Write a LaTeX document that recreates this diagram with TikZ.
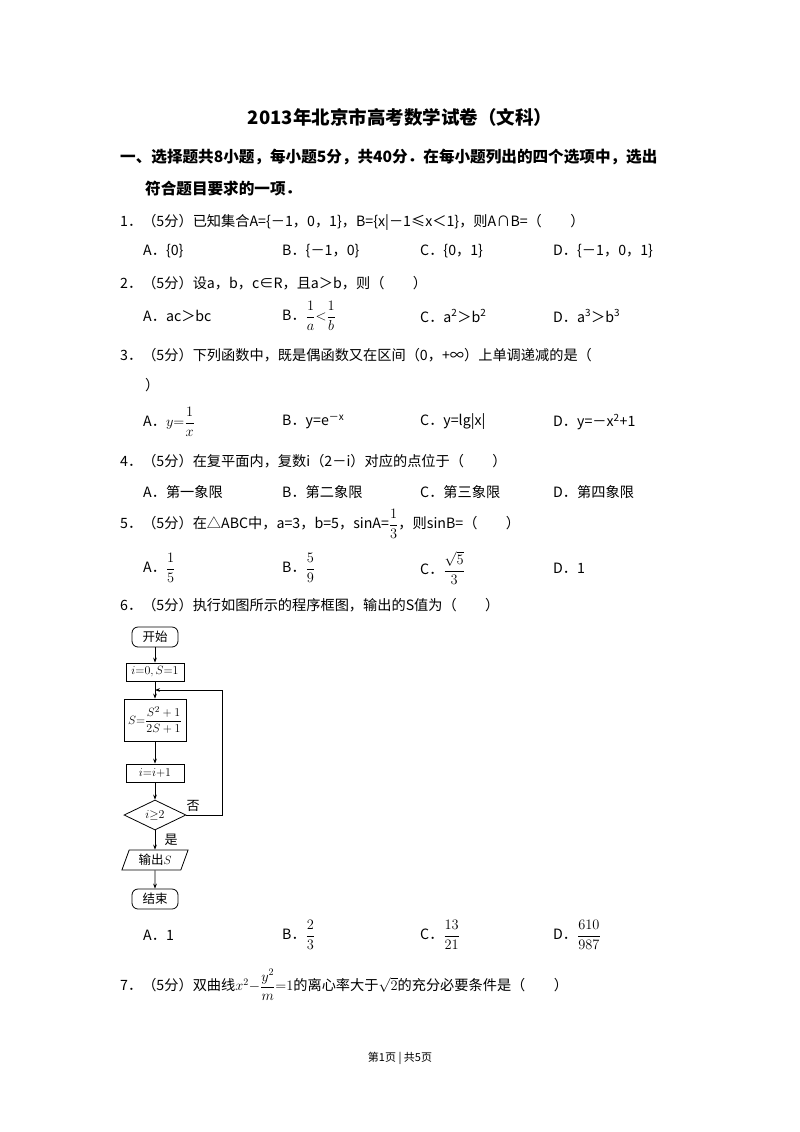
\documentclass[tikz,border=0pt]{standalone}
\usepackage{amsmath}
\usepackage{fontspec}
\setmainfont{Noto Sans CJK SC}
\usetikzlibrary{shapes.geometric,arrows.meta}
\begin{document}
\begin{tikzpicture}[x=1pt,y=-1pt,
 txt/.style={anchor=west,inner sep=0pt,font=\fontsize{14.2}{16}\selectfont},
 fb/.style={draw,thick,inner sep=2pt,font=\fontsize{12.5}{14}\selectfont},
 arr/.style={thick,-{Stealth[length=5pt]}}]
\fill[white] (0,0) rectangle (800,1132);
\node[anchor=center,font=\fontsize{18.5}{20}\selectfont\bfseries] (title) at (400,117) {2013年北京市高考数学试卷（文科）};
\node[txt,font=\fontsize{15.6}{17}\selectfont\bfseries] (h1) at (120,157) {一、选择题共8小题，每小题5分，共40分．在每小题列出的四个选项中，选出};
\node[txt,font=\fontsize{15.6}{17}\selectfont\bfseries] (h2) at (145,189) {符合题目要求的一项．};
\node[txt] (q1) at (120,222) {1．（5分）已知集合A=\{－1，0，1\}，B=\{x|－1≤x＜1\}，则A∩B=（\qquad ）};
\node[txt] (q1a) at (143,251) {A．\{0\}};
\node[txt] (q1b) at (282,251) {B．\{－1，0\}};
\node[txt] (q1c) at (420,251) {C．\{0，1\}};
\node[txt] (q1d) at (553,251) {D．\{－1，0，1\}};
\node[txt] (q2) at (120,283) {2．（5分）设a，b，c∈R，且a＞b，则（\qquad ）};
\node[txt] (q2a) at (143,316) {A．ac＞bc};
\node[txt] (q2b) at (282,316) {B．$\dfrac{1}{a}{<}\dfrac{1}{b}$};
\node[txt] (q2c) at (420,316) {C．a\textsuperscript{2}＞b\textsuperscript{2}};
\node[txt] (q2d) at (553,316) {D．a\textsuperscript{3}＞b\textsuperscript{3}};
\node[txt] (q3) at (120,355) {3．（5分）下列函数中，既是偶函数又在区间（0，+∞）上单调递减的是（};
\node[txt] (q3e) at (145,385) {）};
\node[txt] (q3a) at (143,422) {A．$y{=}\dfrac{1}{x}$};
\node[txt] (q3b) at (282,422) {B．y=e\textsuperscript{－x}};
\node[txt] (q3c) at (420,422) {C．y=lg|x|};
\node[txt] (q3d) at (553,422) {D．y=－x\textsuperscript{2}+1};
\node[txt] (q4) at (120,461) {4．（5分）在复平面内，复数i（2－i）对应的点位于（\qquad ）};
\node[txt] (q4a) at (143,492) {A．第一象限};
\node[txt] (q4b) at (282,492) {B．第二象限};
\node[txt] (q4c) at (420,492) {C．第三象限};
\node[txt] (q4d) at (553,492) {D．第四象限};
\node[txt] (q5) at (120,524) {5．（5分）在△ABC中，a=3，b=5，sinA=$\dfrac{1}{3}$，则sinB=（\qquad ）};
\node[txt] (q5a) at (143,568) {A．$\dfrac{1}{5}$};
\node[txt] (q5b) at (282,568) {B．$\dfrac{5}{9}$};
\node[txt] (q5c) at (420,568) {C．$\dfrac{\sqrt{5}}{3}$};
\node[txt] (q5d) at (553,568) {D．1};
\node[txt] (q6) at (120,605) {6．（5分）执行如图所示的程序框图，输出的S值为（\qquad ）};
% flowchart
\node[fb,rounded corners=6pt,minimum width=46,minimum height=20] (st) at (155,637) {开始};
\node[fb,minimum width=58,minimum height=18,inner sep=1pt] (init) at (155,672) {$i{=}0,S{=}1$};
\node[fb,minimum width=62,minimum height=42,inner sep=1pt] (upd) at (155,720) {$S{=}\dfrac{S^2+1}{2S+1}$};
\node[fb,minimum width=58,minimum height=18,inner sep=1pt] (inc) at (155,773) {$i{=}i{+}1$};
\node[fb,diamond,aspect=2.2,inner sep=1pt,minimum width=62,minimum height=30] (dec) at (155,815) {$i{\geq}2$};
\node[fb,trapezium,trapezium left angle=70,trapezium right angle=110,minimum width=60,minimum height=20,inner sep=1pt] (out) at (155,860) {输出$S$};
\node[fb,rounded corners=6pt,minimum width=46,minimum height=20] (end) at (155,899) {结束};
\coordinate (j) at (155,690);
\coordinate (r1) at (222,815);
\coordinate (r2) at (222,690);
\draw[arr] (st) -- (init);
\draw[arr] (init) -- (upd);
\draw[arr] (upd) -- (inc);
\draw[arr] (inc) -- (dec);
\draw[arr] (dec) -- (out);
\draw[arr] (out) -- (end);
\draw[thick] (dec.east) -- (r1) -- (r2);
\draw[arr] (r2) -- (j);
\node[anchor=center,font=\fontsize{13}{14}\selectfont] (no) at (193,806) {否};
\node[anchor=center,font=\fontsize{13}{14}\selectfont] (yes) at (171,840) {是};
\node[txt] (q6a) at (143,935) {A．1};
\node[txt] (q6b) at (282,935) {B．$\dfrac{2}{3}$};
\node[txt] (q6c) at (420,935) {C．$\dfrac{13}{21}$};
\node[txt] (q6d) at (553,935) {D．$\dfrac{610}{987}$};
\node[txt] (q7) at (120,985) {7．（5分）双曲线$x^2{-}\dfrac{y^2}{m}{=}1$的离心率大于$\sqrt{2}$的充分必要条件是（\qquad ）};
\node[anchor=center,font=\fontsize{11}{12}\selectfont] (foot) at (400,1058) {第1页 | 共5页};
\end{tikzpicture}
\end{document}
